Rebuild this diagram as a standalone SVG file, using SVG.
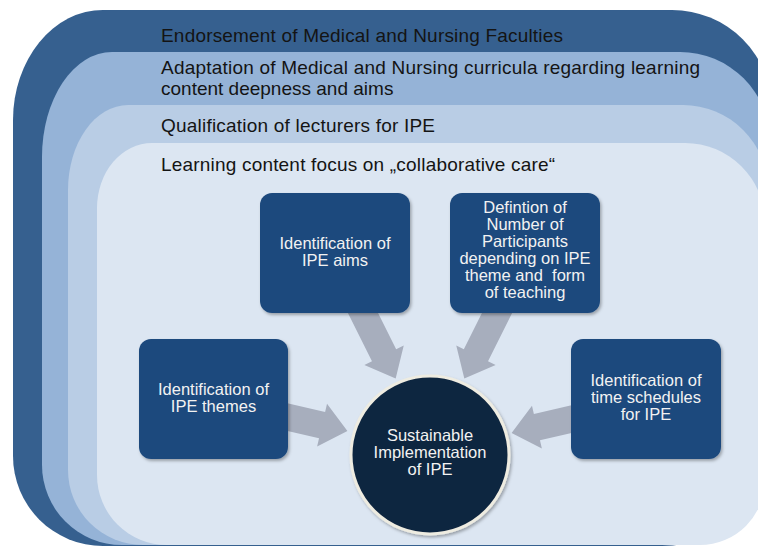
<svg xmlns="http://www.w3.org/2000/svg" width="758" height="547" viewBox="0 0 758 547">
  <style>
    .title { font-family: "Liberation Sans", Arial, sans-serif; font-size: 19px; fill: #141414; }
    .box { fill: #1f497d; filter: url(#sh); }
    .btxt { font-family: "Liberation Sans", Arial, sans-serif; font-size: 16.5px; fill: #f2f2f2; text-anchor: middle; }
    .arrow { fill: #a7aebd; }
  </style>
  <defs>
    <filter id="sh" x="-10%" y="-10%" width="125%" height="125%">
      <feDropShadow dx="1.5" dy="2" stdDeviation="1.5" flood-color="#000" flood-opacity="0.3"/>
    </filter>
    <polygon id="arr" points="-40,-13.5 36,-13.5 36,-22 62,0 36,22 36,13.5 -40,13.5"/>
  </defs>
  <rect width="758" height="547" fill="#ffffff"/>
  <g id="layers">
    <path id="layer1" fill="#36608f" d="M103,10 H672 A100,100 0 0 1 772,110 V436 A110,110 0 0 1 662,546 H103 A90,90 0 0 1 13,456 V120 A90,110 0 0 1 103,10 Z"/>
    <path id="layer2" fill="#95b3d7" d="M112,52 H680 A90,90 0 0 1 770,142 V445 A100,100 0 0 1 670,545 H122 A80,80 0 0 1 42,465 V157 A70,105 0 0 1 112,52 Z"/>
    <path id="layer3" fill="#b9cde5" d="M128,105 H683 A85,85 0 0 1 768,190 V455 A90,90 0 0 1 678,545 H143 A75,75 0 0 1 68,470 V190 A60,85 0 0 1 128,105 Z"/>
    <path id="layer4" fill="#dce6f2" d="M152,143 H685 A80,80 0 0 1 765,223 V480 A65,65 0 0 1 700,545 H167 A70,70 0 0 1 97,475 V208 A55,65 0 0 1 152,143 Z"/>
  </g>
  <g id="layer-texts">
    <text class="title" x="161" y="42" textLength="402" lengthAdjust="spacing">Endorsement of Medical and Nursing Faculties</text>
    <text class="title" x="161" y="74" textLength="539" lengthAdjust="spacing">Adaptation of Medical and Nursing curricula regarding learning</text>
    <text class="title" x="161" y="95">content deepness and aims</text>
    <text class="title" x="161" y="132" textLength="274" lengthAdjust="spacing">Qualification of lecturers for IPE</text>
    <text class="title" x="161" y="171" textLength="394" lengthAdjust="spacing">Learning content focus on „collaborative care“</text>
  </g>
  <g id="connectors">
    <use href="#arr" class="arrow" transform="translate(368,323) rotate(63.5)"/>
    <use href="#arr" class="arrow" transform="translate(492,323) rotate(116.5)"/>
    <use href="#arr" class="arrow" transform="translate(287,417) rotate(13)"/>
    <use href="#arr" class="arrow" transform="translate(572,419) rotate(167)"/>
  </g>
  <g id="node-aims">
    <rect class="box" x="260" y="193" width="150" height="120" rx="12"/>
    <text class="btxt" x="335" y="249">Identification of</text>
    <text class="btxt" x="335" y="266">IPE aims</text>
  </g>
  <g id="node-participants">
    <rect class="box" x="450" y="193" width="150" height="120" rx="12"/>
    <text class="btxt" x="525" y="213">Defintion of</text>
    <text class="btxt" x="525" y="230">Number of</text>
    <text class="btxt" x="525" y="247">Participants</text>
    <text class="btxt" x="525" y="264">depending on IPE</text>
    <text class="btxt" x="525" y="281" xml:space="preserve">theme and  form</text>
    <text class="btxt" x="525" y="298">of teaching</text>
  </g>
  <g id="node-themes">
    <rect class="box" x="139" y="339" width="149" height="120" rx="12"/>
    <text class="btxt" x="213.5" y="395">Identification of</text>
    <text class="btxt" x="213.5" y="412">IPE themes</text>
  </g>
  <g id="node-time">
    <rect class="box" x="571" y="339" width="150" height="120" rx="12"/>
    <text class="btxt" x="646" y="386">Identification of</text>
    <text class="btxt" x="646" y="403">time schedules</text>
    <text class="btxt" x="646" y="420">for IPE</text>
  </g>
  <g id="node-center">
    <circle cx="430" cy="455" r="79" fill="#10253f" stroke="#eeece1" stroke-width="3" filter="url(#sh)"/>
    <text class="btxt" x="430" y="441">Sustainable</text>
    <text class="btxt" x="430" y="458">Implementation</text>
    <text class="btxt" x="430" y="475">of IPE</text>
  </g>
</svg>
